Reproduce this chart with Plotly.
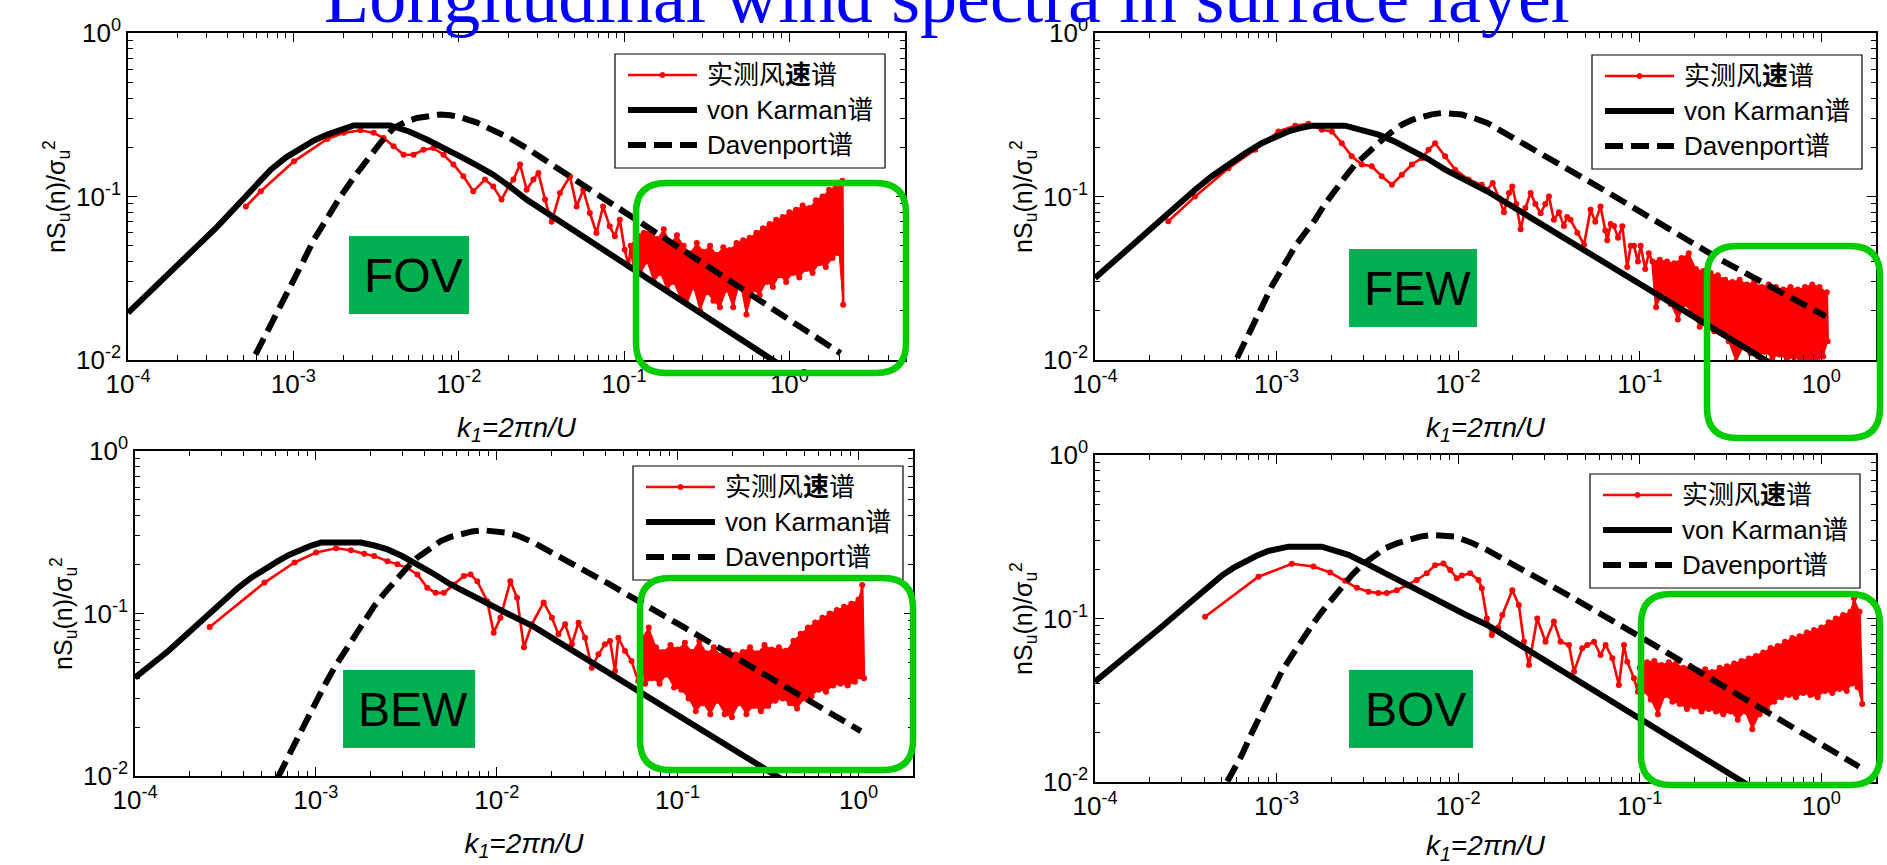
import numpy as np
import plotly.graph_objects as go

W, H = 1887, 865

# ------------------------------------------------------------------
# Values: x = log10(k1), y = nS_u(n)/sigma_u^2
# ------------------------------------------------------------------
X_TICKVALS = [1e-4, 1e-3, 1e-2, 1e-1, 1.0]
X_TICKTEXT = ["10<sup>-4</sup>", "10<sup>-3</sup>", "10<sup>-2</sup>", "10<sup>-1</sup>", "10<sup>0</sup>"]
Y_TICKVALS = [1e-2, 1e-1, 1.0]
Y_TICKTEXT = ["10<sup>-2</sup>", "10<sup>-1</sup>", "10<sup>0</sup>"]

SERIES_NAMES = ["实测风速谱", "von Karman谱", "Davenport谱"]
CASE_LABELS = ["FOV", "FEW", "BEW", "BOV"]

# ---------------- FOV ----------------
FOV_VK_LOGK = [-4.0, -3.8, -3.659, -3.458, -3.297, -3.217, -3.137, -3.046, -2.956, -2.875,
               -2.795, -2.715, -2.635, -2.414, -2.30, -2.193, -2.09, -1.992, -1.89, -1.791,
               -1.69, -1.59, -0.102, 0.0]
FOV_VK_S = [0.0194, 0.0305, 0.0411, 0.0657, 0.098, 0.120, 0.146, 0.173, 0.198, 0.220,
            0.239, 0.257, 0.272, 0.272, 0.250, 0.223, 0.199, 0.176, 0.155, 0.136,
            0.115, 0.0957, 0.0100, 0.0086]
FOV_DAV_LOGK = [-3.30, -3.137, -3.066, -2.996, -2.936, -2.876, -2.795, -2.715, -2.634, -2.554,
                -2.474, -2.394, -2.323, -2.253, -2.18, -2.112, -2.05, -1.992, -1.89, -1.791,
                -1.69, -1.59, 0.309]
FOV_DAV_S = [0.0078, 0.0161, 0.0225, 0.031, 0.041, 0.0544, 0.075, 0.100, 0.131, 0.168,
             0.213, 0.262, 0.286, 0.302, 0.313, 0.317, 0.314, 0.306, 0.283, 0.256,
             0.227, 0.198, 0.011]
FOV_BAND_START = 40
FOV_MEAS_LOGK = [
    -3.287, -3.197, -2.996, -2.795, -2.695, -2.594, -2.514, -2.454, -2.394, -2.333,
    -2.273, -2.213, -2.153, -2.092, -2.032, -1.972, -1.912, -1.841, -1.791, -1.741,
    -1.699, -1.669, -1.629, -1.589, -1.548, -1.518, -1.478, -1.438, -1.388, -1.327,
    -1.287, -1.247, -1.207, -1.167, -1.127, -1.087, -1.056, -1.026, -0.996, -0.972,
    -0.96, -0.94, -0.92, -0.90, -0.88, -0.86, -0.84, -0.82, -0.80, -0.78,
    -0.76, -0.74, -0.72, -0.70, -0.68, -0.66, -0.64, -0.62, -0.60, -0.58,
    -0.56, -0.54, -0.52, -0.50, -0.48, -0.46, -0.44, -0.42, -0.40, -0.38,
    -0.36, -0.34, -0.32, -0.30, -0.28, -0.26, -0.24, -0.22, -0.20, -0.18,
    -0.16, -0.14, -0.12, -0.10, -0.08, -0.06, -0.04, -0.02, 0.00, 0.02,
    0.04, 0.06, 0.08, 0.10, 0.12, 0.14, 0.16, 0.18, 0.20, 0.22,
    0.24, 0.26, 0.28, 0.30, 0.32, 0.325]
FOV_MEAS_S = [
    0.087, 0.1076, 0.164, 0.225, 0.245, 0.254, 0.245, 0.228, 0.203, 0.180,
    0.180, 0.193, 0.198, 0.180, 0.157, 0.133, 0.1076, 0.127, 0.115, 0.0957,
    0.115, 0.127, 0.157, 0.110, 0.127, 0.139, 0.0957, 0.070, 0.105, 0.133,
    0.0869, 0.110, 0.0793, 0.0598, 0.0869, 0.0657, 0.0571, 0.0721, 0.0473, 0.0374,
    0.050, 0.036, 0.058, 0.034, 0.060, 0.040, 0.062, 0.030, 0.055, 0.034,
    0.063, 0.027, 0.052, 0.030, 0.058, 0.024, 0.050, 0.022, 0.045, 0.028,
    0.052, 0.020, 0.046, 0.026, 0.050, 0.023, 0.044, 0.021, 0.049, 0.027,
    0.047, 0.021, 0.052, 0.030, 0.054, 0.019, 0.056, 0.027, 0.060, 0.025,
    0.064, 0.030, 0.068, 0.028, 0.072, 0.033, 0.075, 0.030, 0.080, 0.034,
    0.083, 0.032, 0.088, 0.036, 0.085, 0.034, 0.095, 0.039, 0.100, 0.037,
    0.110, 0.042, 0.115, 0.045, 0.125, 0.0218]

# ---------------- FEW ----------------
FEW_VK_LOGK = [-4.0, -3.816, -3.633, -3.449, -3.357, -3.265, -3.173, -3.082, -3.008, -2.935,
               -2.87, -2.806, -2.623, -2.531, -2.439, -2.347, -2.255, -2.163, -2.072, -1.956,
               -1.84, -0.297, -0.2]
FEW_VK_S = [0.0317, 0.0484, 0.0739, 0.110, 0.133, 0.157, 0.184, 0.212, 0.232, 0.250,
            0.262, 0.271, 0.271, 0.257, 0.239, 0.216, 0.193, 0.169, 0.146, 0.126,
            0.1076, 0.0098, 0.0085]
FEW_DAV_LOGK = [-3.28, -3.137, -3.082, -3.027, -2.962, -2.898, -2.843, -2.788, -2.733, -2.678,
                -2.622, -2.567, -2.503, -2.439, -2.375, -2.310, -2.255, -2.200, -2.145, -2.090,
                -2.035, -1.980, -1.91, -1.84, -1.20, -0.554, 0.024]
FEW_DAV_S = [0.0074, 0.0153, 0.0210, 0.0282, 0.0376, 0.0496, 0.0600, 0.0721, 0.090, 0.110,
             0.132, 0.157, 0.184, 0.212, 0.244, 0.275, 0.294, 0.309, 0.318, 0.324,
             0.322, 0.317, 0.301, 0.282, 0.110, 0.041, 0.0185]
FEW_BAND_START = 61
FEW_MEAS_LOGK = [
    -3.596, -3.449, -3.265, -3.118, -2.99, -2.898, -2.825, -2.751, -2.696, -2.641,
    -2.586, -2.531, -2.476, -2.421, -2.365, -2.310, -2.255, -2.200, -2.163, -2.127,
    -2.072, -2.017, -1.943, -1.870,
    -1.84, -1.81, -1.775, -1.748, -1.72, -1.702, -1.68, -1.656, -1.63, -1.601,
    -1.575, -1.546, -1.52, -1.50, -1.473, -1.445, -1.418, -1.40, -1.381, -1.344,
    -1.307, -1.271, -1.245, -1.216, -1.19, -1.179, -1.16, -1.142, -1.12, -1.096,
    -1.069, -1.05, -1.032, -1.01, -0.995, -0.97, -0.95,
    -0.93, -0.91, -0.89, -0.87, -0.85, -0.83, -0.81, -0.79, -0.77, -0.75,
    -0.73, -0.71, -0.69, -0.67, -0.65, -0.63, -0.61, -0.59, -0.57, -0.55,
    -0.53, -0.51, -0.49, -0.47, -0.45, -0.43, -0.41, -0.39, -0.37, -0.35,
    -0.33, -0.31, -0.29, -0.27, -0.25, -0.23, -0.21, -0.19, -0.17, -0.15,
    -0.13, -0.11, -0.09, -0.07, -0.05, -0.03, -0.01, 0.01, 0.03, 0.035]
FEW_MEAS_S = [
    0.0705, 0.100, 0.149, 0.193, 0.250, 0.271, 0.279, 0.256, 0.250, 0.212,
    0.176, 0.157, 0.153, 0.133, 0.118, 0.136, 0.157, 0.172, 0.193, 0.212,
    0.176, 0.146, 0.127, 0.118,
    0.110, 0.121, 0.098, 0.080, 0.105, 0.115, 0.090, 0.063, 0.085, 0.105,
    0.090, 0.079, 0.090, 0.100, 0.072, 0.080, 0.066, 0.075, 0.072, 0.060,
    0.0507, 0.083, 0.070, 0.087, 0.062, 0.054, 0.068, 0.066, 0.056, 0.0657,
    0.037, 0.050, 0.050, 0.040, 0.050, 0.036, 0.045,
    0.040, 0.021, 0.041, 0.026, 0.040, 0.022, 0.039, 0.0177, 0.042, 0.022,
    0.045, 0.019, 0.036, 0.016, 0.035, 0.018, 0.034, 0.015, 0.033, 0.0146,
    0.031, 0.013, 0.030, 0.0098, 0.031, 0.012, 0.029, 0.0110, 0.030, 0.0105,
    0.028, 0.0112, 0.029, 0.0103, 0.028, 0.0108, 0.027, 0.0100, 0.028, 0.0104,
    0.027, 0.0098, 0.028, 0.0101, 0.029, 0.0097, 0.028, 0.0105, 0.026, 0.013]

# ---------------- BEW ----------------
BEW_VK_LOGK = [-4.0, -3.816, -3.633, -3.504, -3.43, -3.357, -3.283, -3.210, -3.146, -3.082,
               -3.026, -2.971, -2.751, -2.677, -2.604, -2.521, -2.439, -2.347, -2.255, -2.163,
               -2.072, -1.934, -1.796, -0.419, -0.35]
BEW_VK_S = [0.0403, 0.0588, 0.0899, 0.122, 0.144, 0.166, 0.189, 0.210, 0.230, 0.248,
            0.262, 0.273, 0.273, 0.262, 0.248, 0.225, 0.201, 0.175, 0.151, 0.133,
            0.117, 0.099, 0.083, 0.0095, 0.0085]
BEW_DAV_LOGK = [-3.28, -3.21, -3.118, -3.063, -3.008, -2.953, -2.898, -2.843, -2.788, -2.733,
                -2.678, -2.622, -2.567, -2.503, -2.439, -2.375, -2.310, -2.255, -2.200, -2.136,
                -2.072, -2.007, -1.943, -1.879, -1.796, -1.38, -0.961, 0.013]
BEW_DAV_S = [0.0071, 0.0098, 0.0157, 0.0209, 0.0276, 0.0360, 0.0464, 0.0577, 0.071, 0.089,
             0.111, 0.133, 0.158, 0.188, 0.221, 0.250, 0.279, 0.296, 0.310, 0.320,
             0.325, 0.322, 0.314, 0.300, 0.273, 0.152, 0.0818, 0.0189]
BEW_BAND_START = 42
BEW_MEAS_LOGK = [
    -3.587, -3.284, -3.118, -2.999, -2.889, -2.806, -2.733, -2.678, -2.604, -2.549,
    -2.494, -2.439, -2.384, -2.338, -2.292, -2.237, -2.182, -2.145, -2.108, -2.053,
    -2.017, -1.980, -1.925, -1.888, -1.85, -1.806, -1.741, -1.695, -1.659, -1.622,
    -1.585, -1.548, -1.512, -1.475, -1.438, -1.402, -1.374, -1.346, -1.328, -1.291,
    -1.255, -1.218,
    -1.20, -1.18, -1.16, -1.14, -1.12, -1.10, -1.08, -1.06, -1.04, -1.02,
    -1.00, -0.98, -0.96, -0.94, -0.92, -0.90, -0.88, -0.86, -0.84, -0.82,
    -0.80, -0.78, -0.76, -0.74, -0.72, -0.70, -0.68, -0.66, -0.64, -0.62,
    -0.60, -0.58, -0.56, -0.54, -0.52, -0.50, -0.48, -0.46, -0.44, -0.42,
    -0.40, -0.38, -0.36, -0.34, -0.32, -0.30, -0.28, -0.26, -0.24, -0.22,
    -0.20, -0.18, -0.16, -0.14, -0.12, -0.10, -0.08, -0.06, -0.04, -0.02,
    0.00, 0.01, 0.02, 0.03]
BEW_MEAS_S = [
    0.0826, 0.155, 0.206, 0.237, 0.252, 0.245, 0.233, 0.226, 0.210, 0.201,
    0.191, 0.174, 0.144, 0.134, 0.134, 0.151, 0.170, 0.174, 0.158, 0.119,
    0.0762, 0.0942, 0.158, 0.125, 0.062, 0.0858, 0.117, 0.0942, 0.0744, 0.0858,
    0.0646, 0.0878, 0.0709, 0.0464, 0.0561, 0.0646, 0.0677, 0.0443, 0.0709, 0.0588,
    0.0510, 0.0384,
    0.070, 0.037, 0.082, 0.040, 0.062, 0.037, 0.058, 0.042, 0.064, 0.035,
    0.060, 0.034, 0.066, 0.030, 0.058, 0.025, 0.068, 0.028, 0.057, 0.024,
    0.062, 0.029, 0.055, 0.024, 0.059, 0.023, 0.056, 0.028, 0.058, 0.024,
    0.062, 0.027, 0.057, 0.025, 0.064, 0.027, 0.060, 0.029, 0.062, 0.030,
    0.059, 0.028, 0.068, 0.026, 0.075, 0.030, 0.082, 0.031, 0.088, 0.034,
    0.094, 0.033, 0.100, 0.036, 0.105, 0.037, 0.110, 0.036, 0.115, 0.038,
    0.122, 0.041, 0.150, 0.040]

# ---------------- BOV ----------------
BOV_VK_LOGK = [-4.0, -3.816, -3.633, -3.449, -3.375, -3.302, -3.238, -3.174, -3.11, -3.045,
               -2.99, -2.935, -2.751, -2.677, -2.604, -2.521, -2.439, -2.347, -2.255, -2.163,
               -2.072, -1.956, -1.84, -0.417, -0.35]
BOV_VK_S = [0.0411, 0.0598, 0.0891, 0.133, 0.157, 0.183, 0.204, 0.223, 0.242, 0.259,
            0.268, 0.275, 0.275, 0.262, 0.245, 0.221, 0.198, 0.177, 0.157, 0.138,
            0.121, 0.105, 0.0913, 0.0098, 0.0088]
BOV_DAV_LOGK = [-3.34, -3.275, -3.192, -3.137, -3.082, -3.027, -2.972, -2.916, -2.861, -2.806,
                -2.751, -2.696, -2.641, -2.586, -2.531, -2.466, -2.402, -2.338, -2.274, -2.21,
                -2.145, -2.08, -2.017, -1.93, -1.84, -1.38, -0.922, 0.208]
BOV_DAV_S = [0.0073, 0.0098, 0.0146, 0.0199, 0.0269, 0.0358, 0.0473, 0.0593, 0.0739, 0.0905,
             0.110, 0.132, 0.157, 0.184, 0.212, 0.241, 0.269, 0.288, 0.305, 0.317,
             0.324, 0.323, 0.317, 0.292, 0.262, 0.136, 0.069, 0.0124]
BOV_BAND_START = 47
BOV_MEAS_LOGK = [
    -3.394, -3.1, -2.916, -2.797, -2.705, -2.623, -2.558, -2.494, -2.439, -2.393,
    -2.338, -2.283, -2.228, -2.173, -2.127, -2.081, -2.044, -2.007, -1.980, -1.934,
    -1.888, -1.870, -1.842, -1.815, -1.78, -1.757, -1.702, -1.666, -1.638, -1.61,
    -1.565, -1.519, -1.473, -1.436, -1.39, -1.362, -1.317, -1.289, -1.252, -1.216,
    -1.188, -1.151, -1.115, -1.087, -1.069, -1.032, -1.01,
    -1.00, -0.98, -0.96, -0.94, -0.92, -0.90, -0.88, -0.86, -0.84, -0.82,
    -0.80, -0.78, -0.76, -0.74, -0.72, -0.70, -0.68, -0.66, -0.64, -0.62,
    -0.60, -0.58, -0.56, -0.54, -0.52, -0.50, -0.48, -0.46, -0.44, -0.42,
    -0.40, -0.38, -0.36, -0.34, -0.32, -0.30, -0.28, -0.26, -0.24, -0.22,
    -0.20, -0.18, -0.16, -0.14, -0.12, -0.10, -0.08, -0.06, -0.04, -0.02,
    0.00, 0.02, 0.04, 0.06, 0.08, 0.10, 0.12, 0.14, 0.16, 0.17,
    0.18, 0.20, 0.21, 0.225]
BOV_MEAS_S = [
    0.1026, 0.180, 0.216, 0.208, 0.191, 0.170, 0.154, 0.146, 0.143, 0.143,
    0.149, 0.160, 0.172, 0.189, 0.212, 0.217, 0.198, 0.176, 0.183, 0.189,
    0.172, 0.153, 0.100, 0.0793, 0.088, 0.105, 0.149, 0.121, 0.0721, 0.052,
    0.100, 0.0721, 0.0957, 0.0721, 0.0689, 0.0473, 0.0657, 0.0689, 0.0721, 0.0598,
    0.0689, 0.0571, 0.0392, 0.0689, 0.0544, 0.0431, 0.0357,
    0.050, 0.036, 0.054, 0.032, 0.055, 0.026, 0.052, 0.034, 0.054, 0.031,
    0.053, 0.030, 0.050, 0.028, 0.051, 0.029, 0.048, 0.027, 0.049, 0.028,
    0.047, 0.027, 0.050, 0.026, 0.051, 0.027, 0.053, 0.024, 0.055, 0.027,
    0.057, 0.021, 0.059, 0.026, 0.062, 0.028, 0.066, 0.031, 0.068, 0.033,
    0.072, 0.034, 0.076, 0.033, 0.078, 0.035, 0.082, 0.034, 0.085, 0.033,
    0.088, 0.036, 0.095, 0.035, 0.100, 0.037, 0.105, 0.036, 0.110, 0.040,
    0.133, 0.038, 0.110, 0.030]

DATA = [
    (FOV_MEAS_LOGK, FOV_MEAS_S, FOV_BAND_START, FOV_VK_LOGK, FOV_VK_S, FOV_DAV_LOGK, FOV_DAV_S),
    (FEW_MEAS_LOGK, FEW_MEAS_S, FEW_BAND_START, FEW_VK_LOGK, FEW_VK_S, FEW_DAV_LOGK, FEW_DAV_S),
    (BEW_MEAS_LOGK, BEW_MEAS_S, BEW_BAND_START, BEW_VK_LOGK, BEW_VK_S, BEW_DAV_LOGK, BEW_DAV_S),
    (BOV_MEAS_LOGK, BOV_MEAS_S, BOV_BAND_START, BOV_VK_LOGK, BOV_VK_S, BOV_DAV_LOGK, BOV_DAV_S),
]
for d in DATA:
    assert len(d[0]) == len(d[1]) and len(d[3]) == len(d[4]) and len(d[5]) == len(d[6])

# ------------------------------------------------------------------
# Layout (pixel geometry of the 1887x865 page)
# ------------------------------------------------------------------
PANELS = [
    dict(xdom=(128, 905), ydom=(33, 360), xmax=0.699, legend=(615, 54),
         label=(349, 236, 469, 314), green=(636, 183, 906, 373)),
    dict(xdom=(1095, 1876), ydom=(33, 360), xmax=0.301, legend=(1592, 55),
         label=(1349, 249, 1477, 327), green=(1707, 246, 1880, 438)),
    dict(xdom=(135, 913), ydom=(451, 776), xmax=0.301, legend=(633, 466),
         label=(343, 670, 475, 748), green=(640, 578, 913, 770)),
    dict(xdom=(1095, 1876), ydom=(455, 782), xmax=0.301, legend=(1590, 474),
         label=(1349, 670, 1473, 748), green=(1641, 594, 1880, 785)),
]

FONT = "Liberation Sans, Arial, Noto Sans CJK SC, sans-serif"
RED = "#ff0000"
GREEN_BOX = "#00b050"
GREEN_LINE = "#00cc00"
DASH = "18px,8px"


def px(X):
    return X / W


def py(Y):
    return 1 - Y / H


fig = go.Figure()
shapes = []
annotations = []

for i, (p, d) in enumerate(zip(PANELS, DATA)):
    sfx = "" if i == 0 else str(i + 1)
    xa, ya = "x" + sfx, "y" + sfx
    meas_lk, meas_s, band0, vk_lk, vk_s, dav_lk, dav_s = d
    meas_k = [10 ** v for v in meas_lk]

    # dense high-frequency scatter: filled between its own upper and lower excursions
    band_k, band_s = meas_k[band0:], meas_s[band0:]
    up_k, up_s = band_k[0::2], band_s[0::2]
    lo_k, lo_s = band_k[1::2], band_s[1::2]
    fig.add_trace(go.Scatter(
        x=up_k + lo_k[::-1], y=up_s + lo_s[::-1], mode="lines", fill="toself",
        fillcolor=RED, line=dict(color=RED, width=1), hoverinfo="skip",
        xaxis=xa, yaxis=ya, showlegend=False))
    fig.add_trace(go.Scatter(
        x=meas_k, y=meas_s, mode="lines+markers",
        line=dict(color=RED, width=2.6), marker=dict(color=RED, size=6),
        name=SERIES_NAMES[0], xaxis=xa, yaxis=ya, showlegend=False))
    fig.add_trace(go.Scatter(
        x=[10 ** v for v in vk_lk], y=vk_s, mode="lines",
        line=dict(color="black", width=6), name=SERIES_NAMES[1],
        xaxis=xa, yaxis=ya, showlegend=False))
    fig.add_trace(go.Scatter(
        x=[10 ** v for v in dav_lk], y=dav_s, mode="lines",
        line=dict(color="black", width=6, dash=DASH), name=SERIES_NAMES[2],
        xaxis=xa, yaxis=ya, showlegend=False))

    common = dict(
        type="log", showline=True, linecolor="black", linewidth=1.5, mirror="allticks",
        ticks="inside", ticklen=9, tickwidth=1.2, tickcolor="black",
        showgrid=False, zeroline=False, automargin=False,
        tickfont=dict(family=FONT, size=26, color="black"),
        minor=dict(ticks="inside", ticklen=5, tickwidth=1, tickcolor="black",
                   dtick="D1", showgrid=False),
    )
    fig.update_layout(**{
        ("xaxis" + sfx): dict(
            common, domain=[px(p["xdom"][0]), px(p["xdom"][1])],
            range=[-4, p["xmax"]], anchor=ya,
            tickmode="array", tickvals=X_TICKVALS, ticktext=X_TICKTEXT,
            title=dict(text="<i>k<sub>1</sub>=2πn/U</i>", standoff=19,
                       font=dict(family=FONT, size=28, color="black"))),
        ("yaxis" + sfx): dict(
            common, domain=[py(p["ydom"][1]), py(p["ydom"][0])],
            range=[-2, 0], anchor=xa,
            tickmode="array", tickvals=Y_TICKVALS, ticktext=Y_TICKTEXT,
            title=dict(text="nS<sub>u</sub>(n)/σ<sub>u</sub><sup>2</sup>", standoff=3,
                       font=dict(family=FONT, size=25, color="black"))),
    })

    # ---- legend box (drawn by hand to get MATLAB-style long samples) ----
    X0, Y0 = p["legend"]
    shapes.append(dict(type="rect", xref="paper", yref="paper",
                       x0=px(X0), x1=px(X0 + 270), y0=py(Y0 + 114), y1=py(Y0),
                       fillcolor="white", line=dict(color="black", width=1.2), layer="above"))
    rows = [Y0 + 21, Y0 + 56, Y0 + 91]
    shapes.append(dict(type="line", xref="paper", yref="paper",
                       x0=px(X0 + 13), x1=px(X0 + 82), y0=py(rows[0]), y1=py(rows[0]),
                       line=dict(color=RED, width=2.5), layer="above"))
    shapes.append(dict(type="circle", xref="paper", yref="paper",
                       x0=px(X0 + 45), x1=px(X0 + 50), y0=py(rows[0] + 2.5), y1=py(rows[0] - 2.5),
                       fillcolor=RED, line=dict(color=RED, width=1), layer="above"))
    shapes.append(dict(type="line", xref="paper", yref="paper",
                       x0=px(X0 + 13), x1=px(X0 + 82), y0=py(rows[1]), y1=py(rows[1]),
                       line=dict(color="black", width=6), layer="above"))
    shapes.append(dict(type="line", xref="paper", yref="paper",
                       x0=px(X0 + 13), x1=px(X0 + 82), y0=py(rows[2]), y1=py(rows[2]),
                       line=dict(color="black", width=6, dash=DASH), layer="above"))
    texts = ["实测风<b>速</b>谱", SERIES_NAMES[1], SERIES_NAMES[2]]
    for t, ry in zip(texts, rows):
        annotations.append(dict(text=t, xref="paper", yref="paper", x=px(X0 + 90), y=py(ry),
                                xanchor="left", yanchor="middle", showarrow=False,
                                font=dict(family=FONT, size=26, color="black")))

    # ---- green case label ----
    lx0, ly0, lx1, ly1 = p["label"]
    shapes.append(dict(type="rect", xref="paper", yref="paper",
                       x0=px(lx0), x1=px(lx1), y0=py(ly1), y1=py(ly0),
                       fillcolor=GREEN_BOX, line=dict(width=0), layer="above"))
    annotations.append(dict(text=CASE_LABELS[i], xref="paper", yref="paper",
                            x=px((lx0 + lx1) / 2 + 4), y=py((ly0 + ly1) / 2),
                            xanchor="center", yanchor="middle", showarrow=False,
                            font=dict(family=FONT, size=48, color="black")))

    # ---- rounded highlight frame ----
    gx0, gy0, gx1, gy1 = p["green"]
    r = 30

    def P(X, Y):
        return f"{px(X):.6f},{py(Y):.6f}"
    path = (f"M{P(gx0 + r, gy0)} L{P(gx1 - r, gy0)} Q{P(gx1, gy0)} {P(gx1, gy0 + r)} "
            f"L{P(gx1, gy1 - r)} Q{P(gx1, gy1)} {P(gx1 - r, gy1)} "
            f"L{P(gx0 + r, gy1)} Q{P(gx0, gy1)} {P(gx0, gy1 - r)} "
            f"L{P(gx0, gy0 + r)} Q{P(gx0, gy0)} {P(gx0 + r, gy0)} Z")
    shapes.append(dict(type="path", xref="paper", yref="paper", path=path,
                       line=dict(color=GREEN_LINE, width=6.5), layer="above"))

# ---- page title (mostly cut off at top, as in the reference) ----
annotations.append(dict(text="Longitudinal wind spectra in surface layer",
                        xref="paper", yref="paper", x=px(950), y=py(40),
                        xanchor="center", yanchor="bottom", showarrow=False,
                        font=dict(family="Liberation Serif, Times New Roman, serif",
                                  size=74, color="#0000ff")))

fig.update_layout(
    width=W, height=H, autosize=False,
    margin=dict(l=0, r=0, t=0, b=0),
    paper_bgcolor="white", plot_bgcolor="white",
    showlegend=False,
    shapes=shapes, annotations=annotations,
    font=dict(family=FONT, color="black"),
)

fig.write_html("out.html", config={"displayModeBar": False},
               post_script="document.body.style.margin='0';document.body.style.overflow='hidden';")
